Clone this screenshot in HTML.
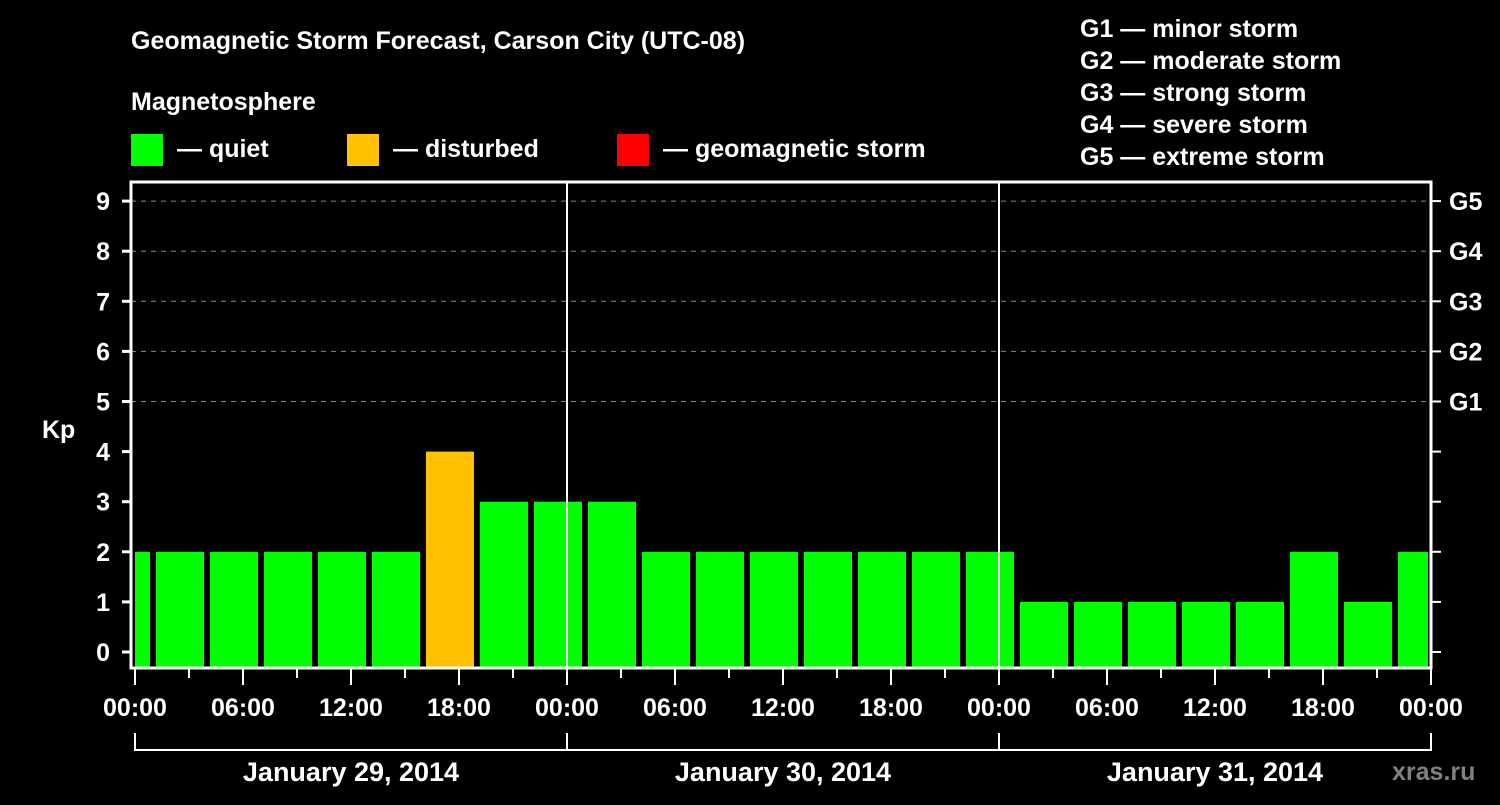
<!DOCTYPE html>
<html><head><meta charset="utf-8"><style>
body{margin:0;background:#000;width:1500px;height:800px;overflow:hidden}
svg text{font-family:"Liberation Sans",Arial,sans-serif;font-weight:bold;fill:#fff}
</style></head><body>
<svg id="c" width="1500" height="800" xmlns="http://www.w3.org/2000/svg">
<text x="131" y="49" font-size="25">Geomagnetic Storm Forecast, Carson City (UTC-08)</text>
<text x="131" y="110" font-size="25">Magnetosphere</text>
<g><rect x="131" y="134" width="32" height="32" fill="#00ff00"/><text x="177" y="157" font-size="25">— quiet</text></g>
<g><rect x="347" y="134" width="32" height="32" fill="#ffc000"/><text x="393" y="157" font-size="25">— disturbed</text></g>
<g><rect x="617" y="134" width="32" height="32" fill="#ff0000"/><text x="663" y="157" font-size="25">— geomagnetic storm</text></g>
<g font-size="25">
<text x="1080" y="37">G1 — minor storm</text><text x="1080" y="69">G2 — moderate storm</text><text x="1080" y="101">G3 — strong storm</text><text x="1080" y="133">G4 — severe storm</text><text x="1080" y="165">G5 — extreme storm</text></g>
<text x="42" y="438" font-size="25">Kp</text>
<text x="1392" y="780" font-size="25" fill="#808080" style="fill:#808080">xras.ru</text>
<g id="grid"></g><g id="bars"></g><g id="axes"></g>
</svg>
<script>
const values=[2,2,2,2,2,2,4,3,3,3,2,2,2,2,2,2,2,1,1,1,1,1,2,1,2];
const yTicks=[0,1,2,3,4,5,6,7,8,9];
const gLabels=["G1","G2","G3","G4","G5"];
const xTickLabels=["00:00","06:00","12:00","18:00","00:00","06:00","12:00","18:00","00:00","06:00","12:00","18:00","00:00"];
const dayLabels=["January 29, 2014","January 30, 2014","January 31, 2014"];
const NS="http://www.w3.org/2000/svg";
const X0=135,PXH=18,L=131,R=1431,T=182,B=668;
const x=h=>X0+h*PXH, y=k=>652-50.1*k;
function mk(p,tag,a){const e=document.createElementNS(NS,tag);for(const k in a)e.setAttribute(k,a[k]);document.getElementById(p).appendChild(e);return e;}
yTicks.forEach(k=>{
 if(k>=5){const g=mk('grid','line',{x1:L,x2:R,y1:y(k),y2:y(k),stroke:'#888','stroke-dasharray':'5,5','stroke-width':1});
 
 }
 const t=mk('axes','line',{x1:122,x2:L,y1:y(k),y2:y(k),stroke:'#fff','stroke-width':3});
 
 
 const t2=mk('axes','line',{x1:R,x2:1441,y1:y(k),y2:y(k),stroke:'#fff','stroke-width':2});
 
 
 const l=mk('axes','text',{x:110,y:y(k)+9,'font-size':25,'text-anchor':'end'});l.textContent=k;
 
 
});
gLabels.forEach((g,i)=>{const l=mk('axes','text',{x:1449,y:y(5+i)+9,'font-size':25});l.textContent=g;
 
 });
// bars: first partial 0-1h, then 3h intervals, last partial 70-72h
values.forEach((v,i)=>{
 let h0,h1;
 if(i===0){h0=0;h1=1;}else{h0=1+(i-1)*3;h1=Math.min(h0+3,72);}
 const xa=i===0?x(h0):x(h0)+3, xb=x(h1)-3;
 const col=v>=5?'#ff0000':(v>=4?'#ffc000':'#00ff00');
 const r=mk('bars','rect',{x:xa,y:y(v),width:xb-xa,height:B-y(v),fill:col});
 
 
});
const fr=mk('axes','rect',{x:L,y:T,width:R-L,height:B-T,fill:'none',stroke:'#fff','stroke-width':3});


[24,48].forEach(h=>{const d=mk('axes','line',{x1:x(h),x2:x(h),y1:T,y2:B,stroke:'#fff','stroke-width':2});
 
 });
for(let h=0;h<=72;h+=3){const big=h%6===0;const t=mk('axes','line',{x1:x(h),x2:x(h),y1:B,y2:big?685:678,stroke:'#fff','stroke-width':2});
 
 }
xTickLabels.forEach((s,i)=>{const l=mk('axes','text',{x:x(i*6),y:716,'font-size':25,'text-anchor':'middle'});l.textContent=s;
 
 });
const br=mk('axes','line',{x1:x(0),x2:x(72),y1:750,y2:750,stroke:'#fff','stroke-width':2});


[0,24,48,72].forEach(h=>{const b=mk('axes','line',{x1:x(h),x2:x(h),y1:733,y2:751,stroke:'#fff','stroke-width':2});
 
 });
dayLabels.forEach((s,i)=>{const l=mk('axes','text',{x:x(i*24+12),y:781,'font-size':27,'text-anchor':'middle'});l.textContent=s;
 
 });
</script>
</body></html>
